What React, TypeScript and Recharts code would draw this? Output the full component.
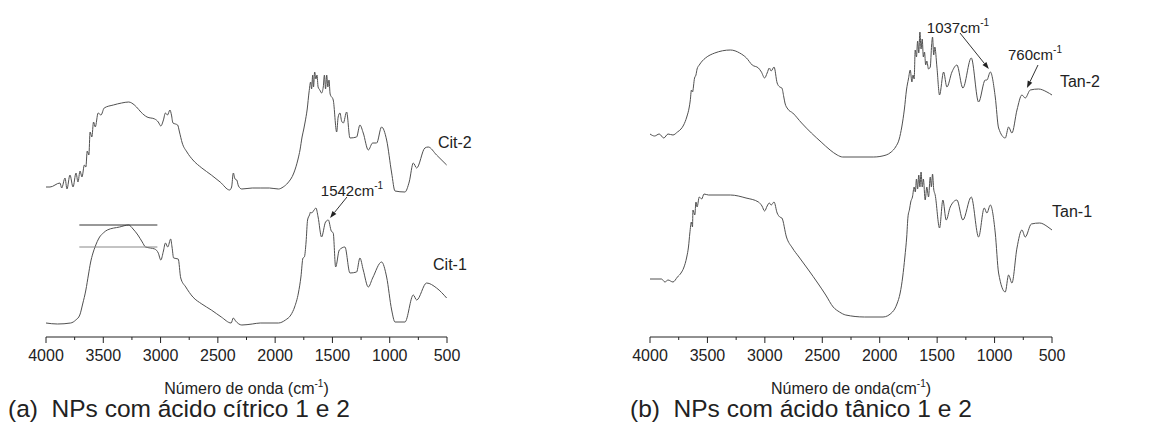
import React from 'react';
import { Line, LineChart, XAxis, YAxis, Label, ReferenceLine, ReferenceDot } from 'recharts';

// [wavenumber (cm-1), transmittance (a.u., offset per curve)]
const cit2: [number, number][] = [
  [4000, 150], [3965, 150], [3878, 154], [3863, 149], [3834, 159], [3817, 148], [3791, 162], [3764, 150],
  [3738, 164], [3721, 155], [3703, 166], [3686, 160], [3665, 172], [3652, 170], [3640, 186], [3626, 182],
  [3615, 205], [3600, 200], [3585, 215], [3570, 210], [3545, 224], [3520, 222], [3492, 229], [3412, 232],
  [3340, 234], [3278, 235], [3252, 234], [3210, 230], [3172, 225], [3118, 220], [3051, 218], [3020, 215],
  [2998, 211], [2975, 217], [2958, 224], [2940, 222], [2918, 227], [2905, 222], [2892, 214], [2870, 213],
  [2851, 212], [2835, 205], [2811, 194], [2770, 185], [2718, 177], [2640, 169], [2557, 162], [2480, 155],
  [2397, 147], [2380, 150], [2365, 164], [2350, 158], [2335, 157], [2320, 151], [2291, 148], [2200, 149],
  [2130, 149], [2050, 149], [1971, 148], [1930, 150], [1890, 154], [1837, 164], [1800, 178], [1783, 187],
  [1765, 200], [1750, 208], [1740, 214], [1720, 228], [1704, 245], [1690, 255], [1682, 248], [1672, 262],
  [1665, 250], [1655, 265], [1644, 258], [1635, 262], [1625, 250], [1610, 247], [1595, 244], [1580, 250],
  [1570, 262], [1560, 248], [1550, 262], [1540, 250], [1530, 257], [1520, 243], [1493, 237], [1463, 205],
  [1450, 220], [1434, 224], [1420, 216], [1405, 214], [1376, 225], [1347, 199], [1289, 200], [1260, 212],
  [1231, 204], [1187, 187], [1149, 194], [1114, 194], [1071, 210], [1027, 197], [983, 164], [954, 146],
  [867, 145], [830, 155], [794, 174], [765, 169], [693, 189], [664, 190], [591, 182], [503, 172],
];

const cit1: [number, number][] = [
  [4000, 14], [3900, 13], [3785, 14], [3740, 17], [3705, 22], [3680, 33], [3652, 47], [3630, 62],
  [3612, 74], [3590, 84], [3572, 90], [3532, 100], [3500, 104], [3465, 107], [3358, 110], [3278, 112],
  [3240, 108], [3198, 102], [3160, 95], [3131, 90], [3090, 89], [3051, 88], [3020, 84], [2998, 77],
  [2975, 86], [2958, 94], [2937, 90], [2912, 98], [2900, 90], [2886, 79], [2846, 78], [2824, 59],
  [2780, 50], [2718, 40], [2640, 33], [2557, 27], [2470, 20], [2384, 14], [2365, 19], [2345, 16],
  [2291, 12], [2200, 13], [2130, 14], [1971, 14], [1910, 17], [1863, 22], [1830, 30], [1797, 44],
  [1775, 60], [1757, 79], [1745, 80], [1730, 95], [1717, 117], [1700, 122], [1690, 125], [1682, 124],
  [1660, 127], [1644, 129], [1625, 120], [1595, 100], [1560, 115], [1536, 117], [1510, 106], [1493, 104],
  [1472, 70], [1440, 87], [1391, 90], [1347, 64], [1289, 65], [1260, 79], [1231, 67], [1187, 50],
  [1149, 59], [1071, 75], [1027, 60], [983, 27], [954, 15], [867, 15], [794, 42], [765, 37],
  [678, 54], [591, 49], [503, 39],
];

const tan2: [number, number][] = [
  [4000, 203], [3960, 201], [3920, 203], [3880, 199], [3843, 203], [3800, 202], [3761, 205], [3730, 208],
  [3707, 212], [3680, 220], [3658, 230], [3650, 236], [3639, 247], [3630, 245], [3612, 259], [3600, 262],
  [3590, 268], [3571, 272], [3545, 276], [3517, 279], [3436, 284], [3300, 287], [3219, 284], [3160, 279],
  [3110, 272], [3056, 269], [3030, 265], [3002, 259], [2980, 264], [2961, 269], [2945, 266], [2920, 270],
  [2893, 254], [2870, 250], [2852, 249], [2835, 240], [2825, 234], [2800, 228], [2757, 224], [2680, 214],
  [2595, 204], [2510, 195], [2432, 187], [2370, 182], [2323, 180], [2215, 180], [2052, 180], [1944, 182],
  [1900, 185], [1862, 190], [1830, 198], [1808, 210], [1785, 228], [1767, 247], [1750, 258], [1734, 267],
  [1720, 255], [1710, 262], [1700, 258], [1691, 287], [1680, 280], [1670, 296], [1660, 284], [1650, 305],
  [1640, 288], [1630, 298], [1620, 280], [1610, 285], [1600, 272], [1590, 276], [1575, 268], [1560, 270],
  [1548, 292], [1540, 300], [1530, 282], [1520, 290], [1502, 270], [1479, 242], [1444, 265], [1415, 250],
  [1371, 265], [1328, 272], [1276, 249], [1203, 279], [1139, 235], [1081, 257], [1067, 257], [1037, 265],
  [994, 240], [965, 209], [907, 199], [878, 210], [849, 204], [805, 227], [762, 242], [733, 239],
  [689, 247], [617, 248], [544, 245], [500, 242],
];

const tan1: [number, number][] = [
  [4000, 58], [3900, 58], [3870, 55], [3843, 57], [3800, 55], [3761, 60], [3730, 64], [3707, 69],
  [3680, 80], [3665, 90], [3653, 104], [3640, 115], [3630, 110], [3626, 127], [3610, 122], [3600, 135],
  [3590, 130], [3571, 140], [3550, 138], [3530, 143], [3490, 142], [3300, 142], [3164, 139], [3056, 135],
  [3025, 131], [3002, 126], [2980, 131], [2961, 134], [2945, 132], [2920, 135], [2893, 124], [2870, 120],
  [2852, 119], [2812, 100], [2760, 89], [2703, 80], [2620, 67], [2540, 54], [2470, 42], [2405, 30],
  [2350, 25], [2296, 22], [2133, 20], [1971, 20], [1889, 25], [1850, 33], [1822, 44], [1800, 60],
  [1781, 80], [1765, 100], [1754, 120], [1740, 128], [1730, 135], [1715, 140], [1700, 150], [1690, 145],
  [1680, 158], [1670, 148], [1660, 162], [1650, 150], [1640, 165], [1630, 150], [1620, 158], [1604, 137],
  [1590, 150], [1575, 140], [1560, 160], [1550, 150], [1540, 163], [1530, 148], [1517, 142], [1479, 109],
  [1450, 137], [1421, 117], [1386, 130], [1328, 137], [1276, 117], [1203, 140], [1139, 100], [1090, 129],
  [1067, 124], [1037, 132], [994, 104], [965, 64], [907, 45], [878, 62], [849, 54], [805, 89],
  [762, 107], [733, 100], [680, 113], [607, 114], [535, 110], [500, 107],
];

const waveTicks = [4000, 3750, 3500, 3250, 3000, 2750, 2500, 2250, 2000, 1750, 1500, 1250, 1000, 750, 500];

const FONT = 'Liberation Sans, Arial, sans-serif';
const INK = '#222';

const toRows = (pts: [number, number][]) => pts.map(([w, t]) => ({ w, t }));

function WaveTick(props: any) {
  const { x, y, payload } = props;
  const major = payload.value % 500 === 0;
  return (
    <g>
      <line x1={x} y1={y} x2={x} y2={y + (major ? 6 : 3)} stroke={INK} strokeWidth={1} />
      {major && (
        <text x={x} y={y + 24} textAnchor="middle" fontSize={16} fill={INK} fontFamily={FONT}>
          {payload.value}
        </text>
      )}
    </g>
  );
}

const axisTitle = (text: string) => (props: any) => {
  const vb = props.viewBox;
  return (
    <text x={vb.x + vb.width / 2} y={vb.y + 57} textAnchor="middle" fontSize={16} fill={INK} fontFamily={FONT}>
      {text}
      <tspan dy={-7} fontSize={10}>-1</tspan>
      <tspan dy={7}>)</tspan>
    </text>
  );
};

const arrow = (label: string, dx: number, dy: number) => (props: any) => {
  const { x1, y1, x2, y2 } = props;
  const a = Math.atan2(y2 - y1, x2 - x1);
  const c = Math.cos(a);
  const s = Math.sin(a);
  const bx = x2 - 7 * c;
  const by = y2 - 7 * s;
  return (
    <g>
      <line x1={x1} y1={y1} x2={bx} y2={by} stroke="#333" strokeWidth={1} />
      <polygon points={`${x2},${y2} ${bx - 2.5 * s},${by + 2.5 * c} ${bx + 2.5 * s},${by - 2.5 * c}`} fill="#222" />
      <text x={x1 + dx} y={y1 + dy} textAnchor="middle" fontSize={15} fill={INK} fontFamily={FONT}>
        {label}
        <tspan dy={-7} fontSize={10}>-1</tspan>
      </text>
    </g>
  );
};

const seriesName = (name: string) => (props: any) => (
  <text x={props.cx} y={props.cy} fontSize={16} fill={INK} fontFamily={FONT}>
    {name}
  </text>
);

function Panel({ a, b, nameA, nameB, margin, title, children }: any) {
  return (
    <LineChart width={575} height={428} margin={margin}>
      <XAxis
        type="number"
        dataKey="w"
        domain={[500, 4000]}
        reversed
        ticks={waveTicks}
        interval={0}
        tickSize={0}
        tickMargin={0}
        tickLine={false}
        axisLine={{ stroke: INK }}
        tick={<WaveTick />}
        height={91}
      >
        <Label content={axisTitle(title)} />
      </XAxis>
      <YAxis hide domain={[0, 337]} type="number" />
      <Line type="monotone" data={toRows(a)} dataKey="t" name={nameA} stroke="#505050" strokeWidth={1} dot={false} isAnimationActive={false} />
      <Line type="monotone" data={toRows(b)} dataKey="t" name={nameB} stroke="#505050" strokeWidth={1} dot={false} isAnimationActive={false} />
      {children}
    </LineChart>
  );
}

export default function App() {
  return (
    <div style={{ position: 'absolute', left: 0, top: 0, width: 1150, height: 428, background: '#fff', fontFamily: FONT }}>
      <div style={{ position: 'absolute', left: 0, top: 0 }}>
        <Panel a={cit2} b={cit1} nameA="Cit-2" nameB="Cit-1" margin={{ top: 0, right: 128, bottom: 0, left: 46 }} title="Número de onda (cm">
          <ReferenceLine segment={[{ x: 3709, y: 112 }, { x: 3028, y: 112 }]} stroke="#333" strokeWidth={1} />
          <ReferenceLine segment={[{ x: 3709, y: 90 }, { x: 3028, y: 90 }]} stroke="#888" strokeWidth={1} />
          <ReferenceLine segment={[{ x: 1373, y: 140 }, { x: 1521, y: 119 }]} shape={arrow('1542cm', 5, -1)} />
          <ReferenceDot x={579} y={189} r={0} ifOverflow="visible" shape={seriesName('Cit-2')} />
          <ReferenceDot x={622} y={67} r={0} ifOverflow="visible" shape={seriesName('Cit-1')} />
        </Panel>
      </div>
      <div style={{ position: 'absolute', left: 575, top: 0 }}>
        <Panel a={tan2} b={tan1} nameA="Tan-2" nameB="Tan-1" margin={{ top: 0, right: 98, bottom: 0, left: 75 }} title="Número de onda(cm">
          <ReferenceLine segment={[{ x: 1301, y: 304 }, { x: 1050, y: 268 }]} shape={arrow('1037cm', -2, 0)} />
          <ReferenceLine segment={[{ x: 622, y: 272 }, { x: 718, y: 249 }]} shape={arrow('760cm', -3, -5)} />
          <ReferenceDot x={431} y={250} r={0} ifOverflow="visible" shape={seriesName('Tan-2')} />
          <ReferenceDot x={500} y={120} r={0} ifOverflow="visible" shape={seriesName('Tan-1')} />
        </Panel>
      </div>
      <div style={{ position: 'absolute', left: 8, top: 395, fontSize: 24.5, color: INK, whiteSpace: 'pre', lineHeight: '28px' }}>
        {'(a)  NPs com ácido cítrico 1 e 2'}
      </div>
      <div style={{ position: 'absolute', left: 630, top: 395, fontSize: 24.5, color: INK, whiteSpace: 'pre', lineHeight: '28px' }}>
        {'(b)  NPs com ácido tânico 1 e 2'}
      </div>
    </div>
  );
}
